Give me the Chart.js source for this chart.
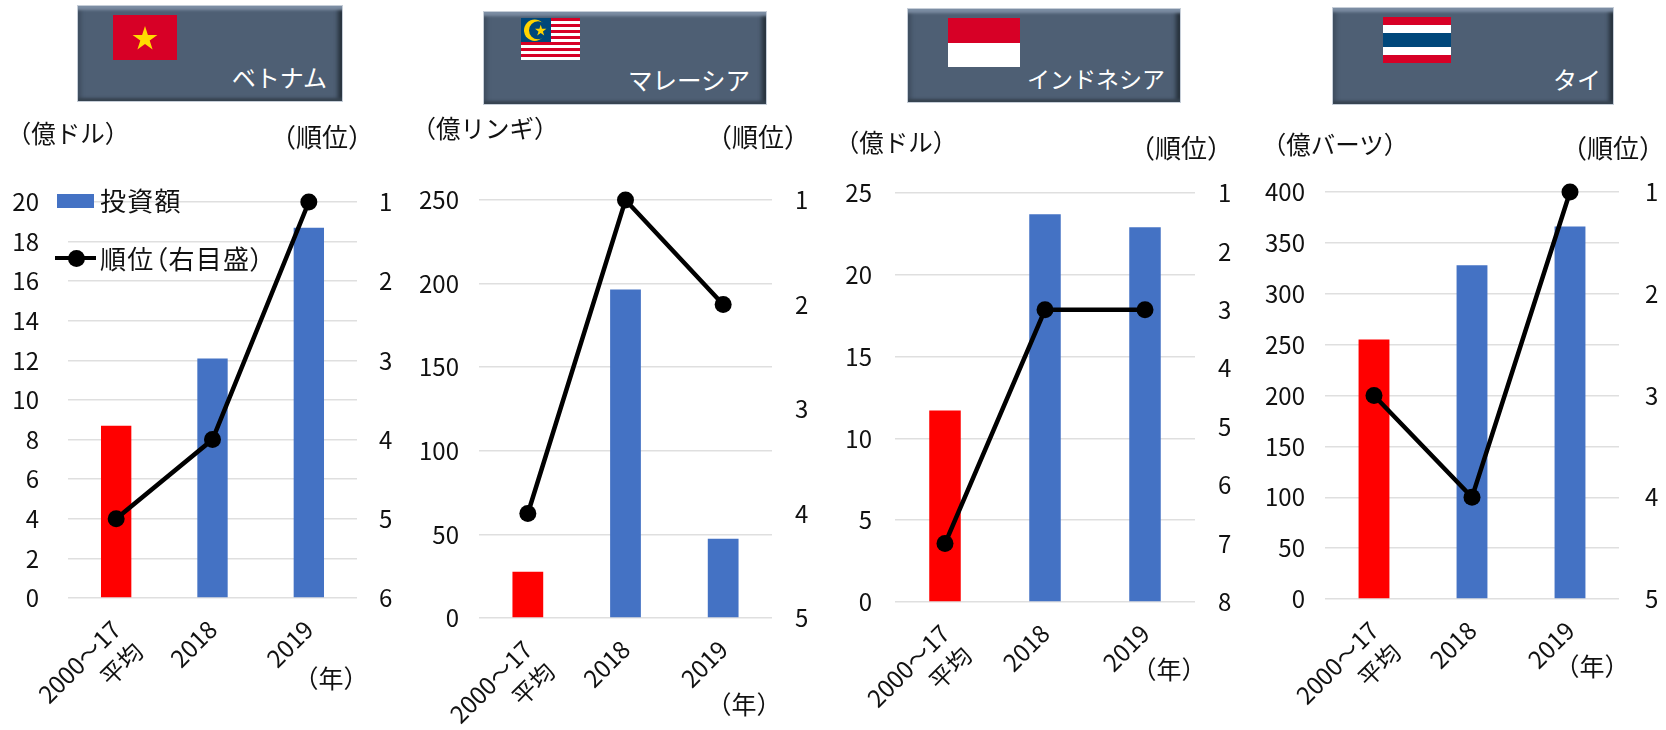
<!DOCTYPE html>
<html lang="ja">
<head>
<meta charset="utf-8">
<title>投資額と順位</title>
<script src="https://cdn.jsdelivr.net/npm/chart.js@4/dist/chart.umd.min.js"></script>
<style>
  html, body { margin: 0; padding: 0; background: #fff; }
  body { width: 1666px; height: 730px; position: relative; overflow: hidden; font-family: "Noto Sans CJK JP", sans-serif; color: #111; }
  canvas { position: absolute; }
  .head { position: absolute; box-sizing: border-box; background: #4e5f74; border: 1px solid #c6ced8;
    box-shadow: inset 0 6px 3px -2px #7c8da3, inset 0 -5px 3px -2px #36434f, inset -6px 0 4px -2px #26303b, inset 5px 0 4px -2px #3e4c5e; }
  .name { position: absolute; color: #fff; line-height: 1; white-space: nowrap; transform: translate(-100%, -50%); }
  .flag { position: absolute; display: block; }
  .unit { position: absolute; line-height: 1; white-space: nowrap; transform: translate(-50%, -50%); }
  .legend-text { position: absolute; font-size: 26px; line-height: 1; white-space: nowrap; transform: translateY(-50%); font-feature-settings: "palt"; letter-spacing: 1.2px; }
  .swatch { position: absolute; }
</style>
</head>
<body>
<script>
// ====== DATA ======
const categories = [["2000～17", "平均"], "2018", "2019"];

const vietnamInvest = [8.7, 12.1, 18.7];
const vietnamRank = [5, 4, 1];
const malaysiaInvest = [27.7, 196.5, 47.4];
const malaysiaRank = [4, 1, 2];
const indonesiaInvest = [11.7, 23.7, 22.9];
const indonesiaRank = [7, 3, 3];
const thaiInvest = [255, 328, 366];
const thaiRank = [3, 4, 1];

const investLabel = "投資額";
const rankLabel = "順位（右目盛）";

// ====== COLORS ======
const RED = "#ff0000";
const BLUE = "#4472c4";
const GRID = "#dfdfdf";
const barColors = [RED, BLUE, BLUE];

// panel layout: canvas box, plot box and the scale of each chart
const panels = [
  { invest: vietnamInvest, rank: vietnamRank, max: 20, step: 2, rankMax: 6, box: [0, 415], plot: [68, 357, 202, 598], padL: 29, padR: 22 },
  { invest: malaysiaInvest, rank: malaysiaRank, max: 250, step: 50, rankMax: 5, box: [415, 835], plot: [479, 772, 200, 618], padL: 20, padR: 23 },
  { invest: indonesiaInvest, rank: indonesiaRank, max: 25, step: 5, rankMax: 8, box: [835, 1255], plot: [895, 1195, 193, 602], padL: 23, padR: 23 },
  { invest: thaiInvest, rank: thaiRank, max: 400, step: 50, rankMax: 5, box: [1255, 1666], plot: [1325, 1619, 192, 599], padL: 20, padR: 26 }
];

// canvases start well above the plots so the tick padding does not push the chart area down
const CANVAS_TOP = 110;
const CANVAS_BOTTOM = 730;
const FONT = "'Noto Sans CJK JP', sans-serif";

function addEl(tag, cls, css, text) {
  const el = document.createElement(tag);
  el.className = cls;
  el.style.cssText = css;
  if (text) el.textContent = text;
  document.body.appendChild(el);
  return el;
}

function drawChart(p) {
  const canvas = document.createElement("canvas");
  const w = p.box[1] - p.box[0];
  const h = CANVAS_BOTTOM - CANVAS_TOP;
  canvas.width = w;
  canvas.height = h;
  canvas.style.left = p.box[0] + "px";
  canvas.style.top = CANVAS_TOP + "px";
  canvas.style.width = w + "px";
  canvas.style.height = h + "px";
  document.body.appendChild(canvas);

  new Chart(canvas.getContext("2d"), {
    type: "bar",
    data: {
      labels: categories,
      datasets: [
        {
          type: "line",
          label: rankLabel,
          data: p.rank,
          yAxisID: "yRank",
          order: 0,
          clip: false,
          borderColor: "#000",
          backgroundColor: "#000",
          borderWidth: 4.5,
          pointRadius: 8.5,
          pointBackgroundColor: "#000",
          pointBorderWidth: 0,
          tension: 0
        },
        {
          type: "bar",
          label: investLabel,
          data: p.invest,
          yAxisID: "y",
          order: 1,
          backgroundColor: barColors,
          categoryPercentage: 1,
          barPercentage: 0.315
        }
      ]
    },
    options: {
      responsive: false,
      animation: false,
      layout: { padding: { top: p.plot[2] - CANVAS_TOP, bottom: 0, left: 0, right: 0 } },
      plugins: { legend: { display: false }, tooltip: { enabled: false } },
      scales: {
        x: {
          grid: { display: false },
          border: { display: false },
          ticks: { color: "#111", font: { family: FONT, size: 24, lineHeight: 1.3 }, minRotation: 45, maxRotation: 45, padding: 8, autoSkip: false },
          afterFit: (s) => { s.height = CANVAS_BOTTOM - p.plot[3]; }
        },
        y: {
          position: "left",
          min: 0,
          max: p.max,
          grid: { color: GRID, lineWidth: 1.5, drawTicks: false },
          border: { display: false },
          ticks: { stepSize: p.step, color: "#111", font: { family: FONT, size: 24 }, padding: p.padL },
          afterFit: (s) => { s.width = p.plot[0] - p.box[0]; }
        },
        yRank: {
          position: "right",
          reverse: true,
          min: 1,
          max: p.rankMax,
          grid: { display: false, drawTicks: false },
          border: { display: false },
          ticks: { stepSize: 1, color: "#111", font: { family: FONT, size: 24 }, padding: p.padR },
          afterFit: (s) => { s.width = p.box[1] - p.plot[1]; }
        }
      }
    }
  });
}

panels.forEach(drawChart);

// ====== HEADERS ======
function flagSvg(x, y, w, h, inner) {
  const svg = document.createElementNS("http://www.w3.org/2000/svg", "svg");
  svg.setAttribute("class", "flag");
  svg.setAttribute("viewBox", "0 0 " + w + " " + h);
  svg.style.cssText = `left:${x}px;top:${y}px;width:${w}px;height:${h}px`;
  svg.innerHTML = inner;
  document.body.appendChild(svg);
}

function starPoints(cx, cy, r) {
  const pts = [];
  for (let i = 0; i < 10; i++) {
    const a = -Math.PI / 2 + i * Math.PI / 5;
    const d = i % 2 ? r * 0.382 : r;
    pts.push((cx + d * Math.cos(a)).toFixed(1) + "," + (cy + d * Math.sin(a)).toFixed(1));
  }
  return pts.join(" ");
}

function malaysiaFlag() {
  let s = "";
  for (let i = 0; i < 14; i++) {
    s += `<rect x="0" y="${i * 3}" width="59" height="3" fill="${i % 2 ? "#fff" : "#d70026"}"/>`;
  }
  s += `<rect width="30" height="24" fill="#00477a"/>`;
  s += `<circle cx="13.7" cy="12.3" r="10.7" fill="#ffd400"/><circle cx="17" cy="12.3" r="9" fill="#00477a"/>`;
  s += `<polygon points="${starPoints(19.7, 12.7, 6)}" fill="#ffd400"/>`;
  return s;
}

const heads = [
  [77, 5, 266, 97],
  [483, 11, 284, 94],
  [907, 8, 274, 95],
  [1332, 7, 282, 98]
];
heads.forEach((b) => addEl("div", "head", `left:${b[0]}px;top:${b[1]}px;width:${b[2]}px;height:${b[3]}px`));

flagSvg(113, 15, 64, 45, `<rect width="64" height="45" fill="#d70026"/><polygon points="${starPoints(32, 24, 13)}" fill="#ffdb00"/>`);
flagSvg(521, 18, 59, 42, malaysiaFlag());
flagSvg(948, 18, 72, 49, `<rect width="72" height="25" fill="#d70026"/><rect y="25" width="72" height="24" fill="#fff"/>`);
flagSvg(1383, 17, 68, 46, `<rect width="68" height="46" fill="#d70026"/><rect y="8" width="68" height="30" fill="#fff"/><rect y="16" width="68" height="14" fill="#00477a"/>`);

[["ベトナム", 327, 77, 24], ["マレーシア", 750, 80, 24.5], ["インドネシア", 1165, 78, 23], ["タイ", 1601, 79, 24]].forEach((n) => {
  addEl("div", "name", `left:${n[1]}px;top:${n[2]}px;font-size:${n[3]}px`, n[0]);
});

// ====== UNITS ======
[
  ["（億ドル）", 68, 133, 24.5], ["（順位）", 322, 136, 26], ["（年）", 331, 677, 25],
  ["（億リンギ）", 485, 128, 24.5], ["（順位）", 758, 136, 26], ["（年）", 744, 703, 25],
  ["（億ドル）", 896, 142, 24.5], ["（順位）", 1181, 147, 26], ["（年）", 1169, 668, 25],
  ["（億バーツ）", 1335, 144, 24.5], ["（順位）", 1613, 147, 26], ["（年）", 1592, 665, 25]
].forEach((u) => addEl("div", "unit", `left:${u[1]}px;top:${u[2]}px;font-size:${u[3]}px`, u[0]));

// ====== LEGEND (first chart only) ======
addEl("div", "swatch", `left:57px;top:194px;width:37px;height:14px;background:${BLUE}`);
addEl("div", "legend-text", "left:100px;top:200px", investLabel);
addEl("div", "swatch", "left:55px;top:256px;width:41px;height:4px;background:#000");
addEl("div", "swatch", "left:68px;top:250px;width:17px;height:17px;border-radius:50%;background:#000");
addEl("div", "legend-text", "left:100px;top:258px", rankLabel);
</script>
</body>
</html>
